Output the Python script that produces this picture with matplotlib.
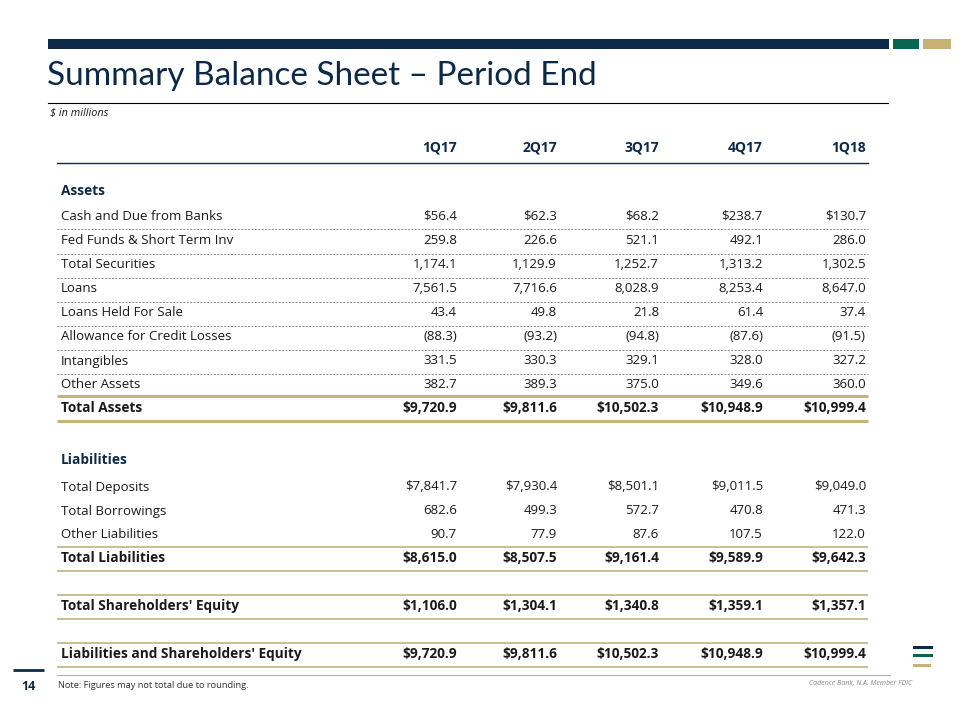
import matplotlib.pyplot as plt
from matplotlib.patches import Rectangle

# ---- data ----
periods = ['1Q17', '2Q17', '3Q17', '4Q17', '1Q18']

asset_rows = ['Cash and Due from Banks', 'Fed Funds & Short Term Inv', 'Total Securities',
              'Loans', 'Loans Held For Sale', 'Allowance for Credit Losses',
              'Intangibles', 'Other Assets']
asset_vals = [
    [56.4, 62.3, 68.2, 238.7, 130.7],
    [259.8, 226.6, 521.1, 492.1, 286.0],
    [1174.1, 1129.9, 1252.7, 1313.2, 1302.5],
    [7561.5, 7716.6, 8028.9, 8253.4, 8647.0],
    [43.4, 49.8, 21.8, 61.4, 37.4],
    [-88.3, -93.2, -94.8, -87.6, -91.5],
    [331.5, 330.3, 329.1, 328.0, 327.2],
    [382.7, 389.3, 375.0, 349.6, 360.0],
]
total_assets = [9720.9, 9811.6, 10502.3, 10948.9, 10999.4]

liab_rows = ['Total Deposits', 'Total Borrowings', 'Other Liabilities']
liab_vals = [
    [7841.7, 7930.4, 8501.1, 9011.5, 9049.0],
    [682.6, 499.3, 572.7, 470.8, 471.3],
    [90.7, 77.9, 87.6, 107.5, 122.0],
]
total_liab = [8615.0, 8507.5, 9161.4, 9589.9, 9642.3]
total_equity = [1106.0, 1304.1, 1340.8, 1359.1, 1357.1]
total_liab_equity = [9720.9, 9811.6, 10502.3, 10948.9, 10999.4]

NAVY = '#0c2a47'
GREEN = '#0a6550'
GOLD = '#c8b273'
LINE_GOLD = '#c6b27a'
TEXT = '#1a1a1a'

plt.rcParams['font.family'] = ['Open Sans', 'DejaVu Sans']


def fmt(v, dollar=False):
    s = f'{abs(v):,.1f}'
    if v < 0:
        return f'({s})'
    return ('$' + s) if dollar else s


fig = plt.figure(figsize=(9.6, 7.2), dpi=100, facecolor='white')
ax = fig.add_axes([0, 0, 1, 1])
ax.set_xlim(0, 960)
ax.set_ylim(720, 0)
ax.axis('off')

# header bars
ax.add_patch(Rectangle((48, 39), 841, 10, color=NAVY, lw=0))
ax.add_patch(Rectangle((893, 39), 26, 10, color=GREEN, lw=0))
ax.add_patch(Rectangle((923, 39), 28, 10, color=GOLD, lw=0))

ax.text(47, 76, 'Summary Balance Sheet \u2013 Period End', fontsize=24, color=NAVY,
        va='center', ha='left', family=['Lato', 'DejaVu Sans'])
ax.plot([48, 888], [103, 103], color='black', lw=0.8)
ax.text(50, 113, '$ in millions', fontsize=7.8, style='italic', color=TEXT, va='center')

# column headers
col_right = [457, 557, 659, 763, 866]
for x, p in zip(col_right, periods):
    ax.text(x, 147, p, fontsize=10, fontweight='bold', color=NAVY, ha='right', va='center')
ax.plot([57, 868], [163, 163], color=NAVY, lw=1.0)

x_label = 61


def row(y, label, vals, bold=False, dollar=False, color=TEXT):
    w = 'bold' if bold else 'normal'
    fs = 9.8 if bold else 9.5
    ax.text(x_label, y, label, fontsize=fs, fontweight=w, color=color, va='center')
    for x, v in zip(col_right, vals):
        ax.text(x, y, fmt(v, dollar), fontsize=fs, fontweight=w, color=color,
                ha='right', va='center')


def gold_line(y, lw=1.2):
    ax.plot([57, 868], [y, y], color=LINE_GOLD, lw=lw, solid_capstyle='butt')


# assets section
ax.text(x_label, 191, 'Assets', fontsize=9.8, fontweight='bold', color=NAVY, va='center')
asset_y = [216, 241, 265, 289, 313, 337, 361, 384]
for i, (y, name, vals) in enumerate(zip(asset_y, asset_rows, asset_vals)):
    row(y, name, vals, dollar=(i == 0))
    if i < len(asset_rows) - 1:
        ax.plot([57, 868], [y + 13, y + 13], color='#8a8a8a', lw=0.7,
                linestyle=(0, (2, 1.5)))
gold_line(396, 2.2)
row(408, 'Total Assets', total_assets, bold=True, dollar=True)
gold_line(421, 2.2)

# liabilities section
ax.text(x_label, 460, 'Liabilities', fontsize=9.8, fontweight='bold', color=NAVY, va='center')
liab_y = [487, 511, 535]
for i, (y, name, vals) in enumerate(zip(liab_y, liab_rows, liab_vals)):
    row(y, name, vals, dollar=(i == 0))
gold_line(547)
row(558, 'Total Liabilities', total_liab, bold=True, dollar=True)
gold_line(571)

gold_line(595)
row(606, "Total Shareholders' Equity", total_equity, bold=True, dollar=True)
gold_line(619)

gold_line(643)
row(654, "Liabilities and Shareholders' Equity", total_liab_equity, bold=True, dollar=True)
gold_line(667)

# footer
ax.plot([57, 890], [675, 675], color='#b0b0b0', lw=0.8)
ax.plot([13, 44], [670, 670], color=NAVY, lw=2.0, solid_capstyle='butt')
ax.text(28, 686, '14', fontsize=9, fontweight='bold', color=NAVY, ha='center', va='center')
ax.text(58, 685, 'Note: Figures may not total due to rounding.', fontsize=6.7,
        color='#333333', va='center')
ax.text(912, 684, 'Cadence Bank, N.A. Member FDIC', fontsize=5, style='italic',
        color='#888888', ha='right', va='center')

# logo marks
ax.add_patch(Rectangle((913, 646), 20, 3, color=NAVY, lw=0))
ax.add_patch(Rectangle((913, 654), 20, 3, color=GREEN, lw=0))
ax.add_patch(Rectangle((913, 664), 18, 3, color=GOLD, lw=0))

fig.savefig('out.png', dpi=100, facecolor='white')
